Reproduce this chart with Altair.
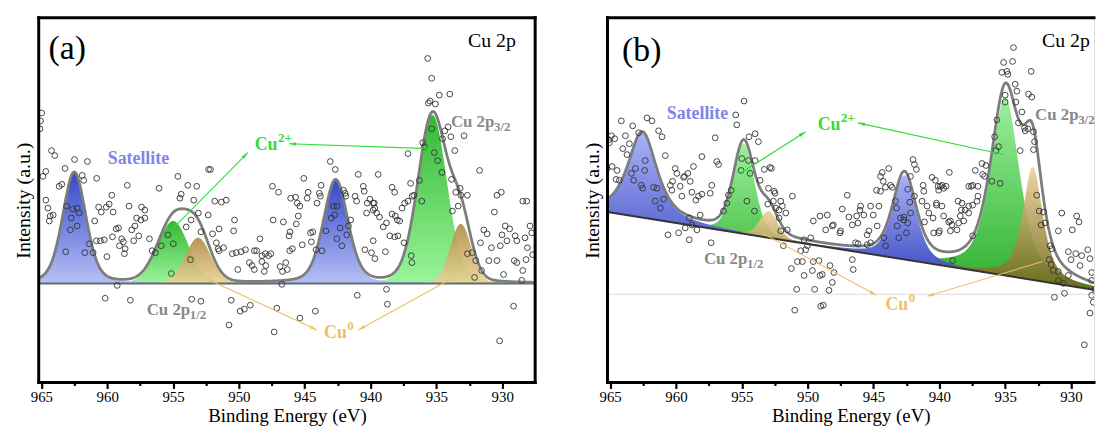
import altair as alt
import numpy as np
import pandas as pd

# ---------------- data ----------------
# measured spectrum, panel (a): (binding energy eV, intensity a.u.)
a_points = [
    (964.98,172),(965.06,164),(965.11,156),(964.23,134),(963.98,129),(962.48,125),(961.5,123),(964.66,113),
    (964.88,108),(963.2,116),(961.9,109),(961.78,104),(960.8,106),(963.65,98),(963.45,100),(964.66,84),
    (964.5,76),(964.33,68),(964.1,69),(964.4,63),(963.08,78),(962.6,75),(962.28,76),(962.13,71),(962.73,66),
    (962.28,58),(962.8,54),(963.15,32),(961.7,31),(961.35,40),(961.07,31),(959.65,89),(958.47,99),(960.65,77),
    (960.07,77),(959.85,80),(960.45,72),(959.55,72),(958.34,78),(957.39,77),(957.14,74),(957.77,66),(957.44,64),
    (957.14,66),(957.89,58),(958.14,54),(957.6,48),(957.99,43),(959.32,55),(959.14,56),(959.6,47),(960.22,44),
    (960.52,43),(960.82,43),(960.95,63),(958.77,42),(958.64,35),(958.69,30),(960.02,27),(958.9,45),(959.07,38),
    (956.06,96),(956.79,45),(956.59,33),(956.34,31),(955.89,38),(955.39,49),(954.98,40),(954.63,108),(954.48,86),
    (954.38,90),(953.88,99),(953.2,98),(953.43,84),(953.08,71),(953.63,64),(954.0,57),(952.88,52),(953.68,24),
    (955.13,10),(959.24,-2),(960.15,-15),(958.24,-17),(953.58,-16),(952.88,-18),(952.3,115),
    (952.16,115),(952.33,69),(951.83,83),(951.33,82),(950.96,84),(951.5,55),(952.0,50),(951.71,41),(951.58,35),
    (951.16,36),(951.5,33),(950.33,64),(950.4,53),(950.2,31),(950.5,30),(949.83,32),(949.5,34),(950.08,14),
    (949.2,21),(949.0,18),(948.83,14),(948.83,33),(948.65,33),(948.4,45),(948.25,28),(948.0,30),(948.25,22),
    (947.95,18),(947.75,28),(948.07,12),(947.57,30),(947.45,98),(946.99,92),(947.4,64),(946.62,62),(946.87,17),
    (946.44,21),(946.32,14),(946.69,12),(946.74,-1),(946.07,86),(945.69,87),(945.57,81),(945.37,78),(945.49,68),
    (945.64,60),(946.12,52),(946.19,48),(945.94,35),(946.14,33),(945.19,39),(945.07,106),(944.74,92),(944.81,86),
    (944.56,51),(944.39,52),(944.49,42),(944.06,81),(943.89,91),(943.76,99),(943.81,88),(944.14,34),(943.39,53),
    (943.69,33),(942.98,66),(942.81,78),(942.56,78),(942.73,69),(942.31,56),(942.56,45),(941.81,49),(941.68,58),
    (942.18,38),(941.51,64),(943.06,123),(942.68,115),(941.93,91),(942.06,94),(941.88,88),(940.93,110),
    (940.55,98),(940.48,93),(941.18,88),(941.06,83),(940.3,71),(940.25,81),(940.05,85),(939.8,81),(939.68,76),
    (940.43,34),(939.93,31),(939.8,43),(941.01,-12),(950.58,-17),(949.9,-28),(949.58,-26),(949.13,-22),
    (947.12,-25),(945.37,-35),(947.32,-49),(944.19,-28),(950.75,-42),
    (935.66,227),(935.36,207),(934.78,190),(933.98,191),(935.48,184),(935.08,181),(935.61,182),(935.36,156),
    (934.11,158),(934.36,154),(933.9,148),(932.9,149),(934.53,146),(933.6,134),(937.16,131),(936.04,142),
    (935.91,138),(935.16,132),(934.91,124),(934.58,112),(931.72,114),(939.42,110),(938.37,97),(938.17,92),
    (936.96,101),(936.84,88),(937.41,81),(937.61,76),(937.16,83),(936.29,104),(933.85,105),(933.2,96),
    (933.53,92),(933.35,78),(933.78,73),(933.15,89),(932.65,89),(930.4,89),(930.07,92),(930.6,72),(928.44,83),
    (928.14,83),(939.72,81),(939.8,74),(939.54,71),(939.32,67),(939.04,57),(938.79,61),(938.37,70),(938.12,68),
    (937.97,64),(937.79,63),(938.54,48),(938.17,47),(937.92,48),(938.87,32),(939.67,25),(937.46,41),(936.91,28),
    (936.86,21),(936.11,83),(936.71,89),(932.65,30),(932.28,31),(932.02,23),(931.57,13),(931.02,23),(930.4,23),
    (930.82,36),(931.15,50),(931.4,54),(931.65,41),(932.1,6),(930.02,49),(929.77,58),(929.44,55),(929.64,43),
    (930.15,38),(929.02,48),(928.89,43),(928.27,46),(927.89,58),(927.76,51),(928.09,36),(929.09,23),(928.89,21),
    (928.19,24),(927.69,29),(928.44,13),(929.9,9),(928.52,3),(938.79,-6),(938.72,-21),(929.14,-23),(930.2,-58),
]

# measured spectrum, panel (b)
b_points = [
    (954.83,195),(955.46,181),(955.38,171),(964.15,175),(963.29,170),(962.2,178),(961.82,175),(961.32,165),
    (961.06,159),(962.83,163),(964.9,160),(964.65,157),(965.05,153),(963.84,160),(963.54,152),(964.04,147),
    (963.72,141),(964.85,129),(964.47,125),(964.3,115),(964.55,116),(963.39,122),(963.08,127),(962.33,135),
    (962.38,125),(963.21,115),(962.63,110),(962.53,107),(961.7,108),(961.44,107),(960.94,96),(961.19,87),
    (961.57,94),(960.81,140),(957.02,158),(956.9,134),(956.77,131),(958.03,139),(958.67,129),(959.1,122),
    (959.35,119),(959.42,118),(960.06,127),(959.93,122),(960.26,114),(960.43,110),(959.68,109),(959.55,99),
    (958.92,114),(960.31,105),(957.28,110),(957.4,102),(958.03,101),(958.29,99),(958.49,95),(958.79,103),
    (956.01,100),(955.81,105),(956.39,84),(956.14,92),(958.16,80),(958.99,77),(959.3,67),(958.79,70),
    (958.41,65),(960.61,60),(959.8,62),(958.99,55),(957.33,52),(955.0,137),(955.05,125),(954.5,135),
    (953.99,135),(954.37,122),(954.62,94),(954.04,84),(952.86,128),(953.29,126),(953.74,154),(953.99,162),
    (954.45,159),(953.61,115),(952.98,107),(953.03,91),(952.48,102),(965.1,156),(965.23,127),
    (952.75,127),(952.55,104),(952.6,94),(952.42,87),(952.04,94),(952.17,85),(951.92,89),(951.66,82),
    (952.17,77),(951.54,65),(952.04,64),(951.84,49),(951.16,99),(950.27,55),(950.02,49),(949.77,57),
    (950.15,45),(950.53,44),(950.4,33),(950.78,33),(951.23,26),(950.27,19),(949.64,24),(949.57,33),
    (949.14,34),(948.89,20),(949.06,19),(948.3,29),(948.0,22),(948.13,12),(948.38,4),(949.47,5),(950.83,5),
    (949.01,-12),(948.81,-11),(950.98,-16),(949.57,74),(949.06,79),(948.51,80),(948.63,65),(948.05,70),
    (948.13,69),(947.5,64),(947.55,62),(947.37,86),(946.99,100),(946.87,78),(946.61,70),(946.28,79),
    (946.18,72),(945.98,89),(946.03,85),(945.73,80),(945.48,60),(945.35,64),(945.22,89),(945.02,80),
    (944.59,89),(944.72,69),(946.36,52),(946.61,35),(946.54,25),(946.18,51),(945.48,50),(945.22,52),
    (944.21,57),(944.08,49),(944.47,119),(944.34,123),(943.84,127),(944.26,114),(944.09,108),(943.58,108),
    (943.71,110),(944.47,104),(944.77,105),(943.33,94),(943.25,87),(942.95,77),(942.7,78),(942.4,72),
    (943.2,69),(942.5,62),(943.08,57),(942.7,75),(942.19,82),(942.0,136),(941.89,131),(941.74,126),
    (942.19,119),(942.4,106),(941.89,99),(942.24,93),(941.23,110),(941.18,104),(941.31,94),(940.93,89),
    (940.8,82),(941.13,73),(940.48,77),(940.22,92),(939.92,109),(940.3,115),(940.55,118),(940.43,62),
    (940.05,62),(939.8,89),(939.67,79),
    (934.37,249),(935.12,234),(934.44,235),(935.25,224),(934.87,225),(934.8,222),(934.24,212),(933.03,225),
    (935.0,201),(934.11,205),(935.0,194),(934.19,194),(933.23,202),(932.98,199),(933.73,184),(933.48,165),
    (933.28,167),(933.53,168),(933.99,173),(935.63,176),(935.8,159),(935.5,149),(935.7,145),(933.86,145),
    (932.85,164),(932.77,154),(932.85,146),(936.76,132),(936.46,130),(937.27,125),(936.71,121),(936.56,119),
    (936.01,114),(935.38,112),(937.57,109),(937.47,110),(937.07,109),(937.77,109),(937.07,99),(937.14,94),
    (937.47,90),(937.77,89),(938.28,92),(938.58,94),(938.33,85),(938.03,85),(937.77,82),(938.41,79),
    (938.15,74),(938.53,72),(938.66,65),(939.04,70),(939.16,74),(939.29,73),(939.49,109),(939.79,110),
    (940.1,109),(939.67,107),(940.05,105),(939.24,123),(940.22,90),(939.16,64),(939.99,64),(937.47,59),
    (938.99,34),(932.6,100),(932.42,84),(932.09,83),(931.97,72),(932.27,70),(930.7,82),(929.57,79),
    (929.39,73),(929.9,65),(930.96,64),(931.59,49),(931.46,46),(931.66,35),(931.51,30),(931.34,24),
    (930.96,23),(930.2,43),(930.0,35),(929.64,41),(929.19,39),(928.73,45),(928.56,36),(929.31,29),
    (927.93,29),(927.98,15),(928.43,14),(928.18,5),(928.43,-1),(928.31,-8),(928.56,-19),(931.26,-3),
    (930.5,1),(928.99,-51),(928.43,22),(930.2,19),(930.58,11),(930.96,14),
]

# fitted components (pseudo-Voigt): centre, height above background, FWHM, Lorentz fraction
peak_names = ["Satellite 1", "Cu2+ 2p1/2", "Cu0 2p1/2", "Satellite 2", "Cu2+ 2p3/2", "Cu0 2p3/2"]
peak_kind = ["sat", "cu2", "cu0", "sat", "cu2", "cu0"]
a_center = [962.5, 955.0, 953.1, 942.65, 935.3, 933.15]
a_height = [112, 63, 46, 104, 170, 60]
a_fwhm = [2.1, 2.8, 2.3, 2.2, 2.6, 1.9]
a_eta = [0.3, 0.1, 0.1, 0.3, 0.15, 0.1]
b_center = [962.55, 954.85, 952.95, 942.65, 935.0, 932.9]
b_height = [86, 91, 27, 85, 180, 114]
b_fwhm = [2.6, 1.9, 1.6, 2.1, 2.6, 1.8]
b_eta = [0.7, 0.3, 0.3, 0.5, 0.6, 0.7]

# linear background (end points: energy, level)
a_bg_energy = [927.5, 965.2]
a_bg_level = [0, 0]
b_bg_energy = [927.5, 965.2]
b_bg_level = [3, 83]

# annotation anchors (energy, intensity)
a_arrow_from = [(954.96, 56), (935.6, 136), (953.14, 9), (933.41, 8)]
a_arrow_to = [(949.32, 132), (946.19, 141), (944.06, -47), (940.93, -47)]
b_arrow_from = [(955.13, 122), (935.15, 141), (953.48, 62), (932.17, 33)]
b_arrow_to = [(950.15, 164), (946.19, 173), (944.77, -1), (940.93, -2)]
arrow_kind = ["cu2", "cu2", "cu0", "cu0"]

a_text_pos = {"tag": (964.45, 236), "title": (932.6, 245), "sat": (957.63, 126),
              "p32": (933.9, 163), "p12": (957.0, -27), "cu2": (948.8, 140), "cu0": (943.53, -50)}
b_text_pos = {"tag": (964.09, 245), "title": (932.2, 256), "sat": (958.37, 182),
              "p32": (932.73, 181), "p12": (957.88, 36), "cu2": (949.24, 171), "cu0": (944.09, -11)}

tick_values = [965, 962.5, 960, 957.5, 955, 952.5, 950, 947.5, 945, 942.5, 940, 937.5, 935, 932.5, 930]

# ---------------- styling ----------------
FONT = "Liberation Serif"
H = 368
W_A = 501
X_LEFT = 965.2
PX_PER_EV = 501 / 37.7
W_B = 491
A_XDOM = [X_LEFT - W_A / PX_PER_EV, X_LEFT]
B_XDOM = [X_LEFT - W_B / PX_PER_EV, X_LEFT]
A_YDOM = [-100, 268]
B_YDOM = [-89, 279]
COL = {"cu2": "#33dd33", "cu0": "#eec066", "sat": "#7f86e8", "grey": "#8a8a8a"}
ARROW = "M0,0L-0.42,1.7L0.42,1.7Z"

x_axis = alt.Axis(
    title="Binding Energy (eV)", values=tick_values,
    labelExpr="datum.value % 5 == 0 ? datum.label : ''",
    tickSize={"condition": {"test": "datum.value % 5 == 0", "value": 6}, "value": 3},
    tickWidth=2.2, tickColor="black", domain=False, grid=False,
    labelFont=FONT, labelFontSize=15, labelColor="black", labelPadding=1, labelFlush=False,
    titleFont=FONT, titleFontSize=19, titleFontWeight="normal", titleColor="black", titlePadding=2,
)
y_axis = alt.Axis(
    title="Intensity (a.u.)", labels=False, ticks=False, domain=False, grid=False,
    titleFont=FONT, titleFontSize=20, titleFontWeight="normal", titleColor="black", titlePadding=5,
)


def grad(top, bottom):
    return alt.Gradient(gradient="linear",
                        stops=[alt.GradientStop(color=top, offset=0),
                               alt.GradientStop(color=bottom, offset=1)],
                        x1=0, x2=0, y1=0, y2=1)


def pvoigt(E, c, h, w, eta):
    d2 = 4.0 * (E - c) ** 2 / w ** 2
    return h * (eta / (1.0 + d2) + (1 - eta) * np.exp(-np.log(2) * d2))


def panel(pts, centers, heights, fwhms, etas, bg_e, bg_l, xdom, width, ydom, grads, tpos, tag,
          afrom, ato, base_rule, zero_rule, right_border):
    def X(f):
        return alt.X(f, type="quantitative",
                     scale=alt.Scale(domain=xdom, reverse=True, nice=False, zero=False), axis=x_axis)

    def Y(f):
        return alt.Y(f, type="quantitative",
                     scale=alt.Scale(domain=ydom, nice=False, zero=False), axis=y_axis)

    E = np.round(np.arange(927.5, X_LEFT + 1e-9, 0.05), 3)
    bg = np.interp(E, bg_e, bg_l)
    total = bg.copy()
    comps = []
    for n, k, c, h, w, eta in zip(peak_names, peak_kind, centers, heights, fwhms, etas):
        y = pvoigt(E, c, h, w, eta)
        total = total + y
        comps.append(pd.DataFrame({"E": E, "top": bg + y, "base": bg, "peak": n, "kind": k}))
    comp_df = pd.concat(comps)
    env_df = pd.DataFrame({"E": E, "I": total})
    bg_df = pd.DataFrame({"E": bg_e, "I": bg_l})
    pts_df = pd.DataFrame(pts, columns=["E", "I"])

    layers = []
    if zero_rule:
        layers.append(alt.Chart(pd.DataFrame({"I": [0]})).mark_rule(
            color="#dcdcdc", strokeWidth=1).encode(y=Y("I")))
    for k in ["cu2", "sat", "cu0"]:
        layers.append(alt.Chart(comp_df[comp_df["kind"] == k]).mark_area(
            color=grads[k], opacity=0.9 if k == "cu0" else 1.0, clip=True).encode(
            x=X("E"), y=Y("top"), y2="base", detail="peak:N"))
    layers.append(alt.Chart(bg_df).mark_line(
        color=base_rule[0], strokeWidth=base_rule[1], clip=True).encode(x=X("E"), y=Y("I")))
    layers.append(alt.Chart(env_df).mark_line(
        color="#7d7d7d", strokeWidth=2.8, clip=True).encode(x=X("E"), y=Y("I")))
    layers.append(alt.Chart(pts_df).mark_point(
        shape="circle", filled=False, size=34, color="#333333", strokeWidth=0.9,
        opacity=1, clip=True).encode(x=X("E"), y=Y("I")))

    # arrows
    xs = width / (xdom[1] - xdom[0])
    ys = H / (ydom[1] - ydom[0])
    rows = []
    for (e1, i1), (e2, i2), k in zip(afrom, ato, arrow_kind):
        sx = -(e2 - e1) * xs
        sy = -(i2 - i1) * ys
        ang = (np.degrees(np.arctan2(sx, -sy)) + 360) % 360
        rows.append({"E1": e1, "I1": i1, "E2": e2, "I2": i2, "ang": ang, "col": COL[k]})
    arr_df = pd.DataFrame(rows)
    layers.append(alt.Chart(arr_df).mark_rule(strokeWidth=1.1).encode(
        x=X("E1"), x2="E2", y=Y("I1"), y2="I2", color=alt.Color("col:N", scale=None)))
    layers.append(alt.Chart(arr_df).mark_point(
        shape=ARROW, filled=True, size=70, opacity=1).encode(
        x=X("E2"), y=Y("I2"), angle=alt.Angle("ang:Q", scale=None),
        color=alt.Color("col:N", scale=None)))

    def txt(key, label, color, size, weight, align="left", dx=0, dy=0):
        e, i = tpos[key]
        return alt.Chart(pd.DataFrame({"E": [e], "I": [i], "t": [label]})).mark_text(
            align=align, baseline="middle", font=FONT, fontSize=size, fontWeight=weight,
            color=color, dx=dx, dy=dy).encode(x=X("E"), y=Y("I"), text="t:N")

    layers += [
        txt("tag", tag, "black", 34, "normal"),
        txt("title", "Cu 2p", "black", 20, "normal"),
        txt("sat", "Satellite", COL["sat"], 18, "bold", align="center"),
        txt("p32", "Cu 2p", COL["grey"], 17, "bold"),
        txt("p32", "3/2", COL["grey"], 13, "bold", dx=43.5, dy=5),
        txt("p12", "Cu 2p", COL["grey"], 17, "bold"),
        txt("p12", "1/2", COL["grey"], 13, "bold", dx=43.5, dy=5),
        txt("cu2", "Cu", COL["cu2"], 18, "bold"),
        txt("cu2", "2+", COL["cu2"], 13, "bold", dx=23.5, dy=-7),
        txt("cu0", "Cu", COL["cu0"], 18, "bold"),
        txt("cu0", "0", COL["cu0"], 13, "bold", dx=23.5, dy=-7),
    ]

    # frame
    one = pd.DataFrame({"k": [0]})
    fr = dict(color="black", strokeWidth=3, strokeCap="square")
    layers += [
        alt.Chart(one).mark_rule(**fr).encode(x=alt.value(0), x2=alt.value(width), y=alt.value(0)),
        alt.Chart(one).mark_rule(**fr).encode(x=alt.value(0), x2=alt.value(width), y=alt.value(H)),
        alt.Chart(one).mark_rule(**fr).encode(x=alt.value(0), y=alt.value(0), y2=alt.value(H)),
    ]
    if right_border:
        layers.append(alt.Chart(one).mark_rule(**fr).encode(
            x=alt.value(width), y=alt.value(0), y2=alt.value(H)))
    return alt.layer(*layers).properties(width=width, height=H)


grads_a = {"sat": grad("#3447c9", "#b6c0f6"), "cu2": grad("#35b835", "#9af59a"),
           "cu0": grad("#b08a45", "#ead296")}
grads_b = {"sat": grad("#a9b3f7", "#2c3cbd"), "cu2": grad("#9cf09c", "#2cb02c"),
           "cu0": grad("#ecd096", "#6d6418")}

pa = panel(a_points, a_center, a_height, a_fwhm, a_eta, a_bg_energy, a_bg_level, A_XDOM, W_A,
           A_YDOM, grads_a, a_text_pos, "(a)", a_arrow_from, a_arrow_to, ("#5d6c74", 2.0),
           False, True)
pb = panel(b_points, b_center, b_height, b_fwhm, b_eta, b_bg_energy, b_bg_level, B_XDOM, W_B,
           B_YDOM, grads_b, b_text_pos, "(b)", b_arrow_from, b_arrow_to, ("#333333", 2.0),
           True, False)

chart = alt.hconcat(pa, pb, spacing=44).properties(
    padding={"left": 5, "top": 5, "right": 0, "bottom": 0}
).configure_view(stroke=None).configure(background="white")

chart.save("out.html", embed_options={"renderer": "svg", "actions": False})
